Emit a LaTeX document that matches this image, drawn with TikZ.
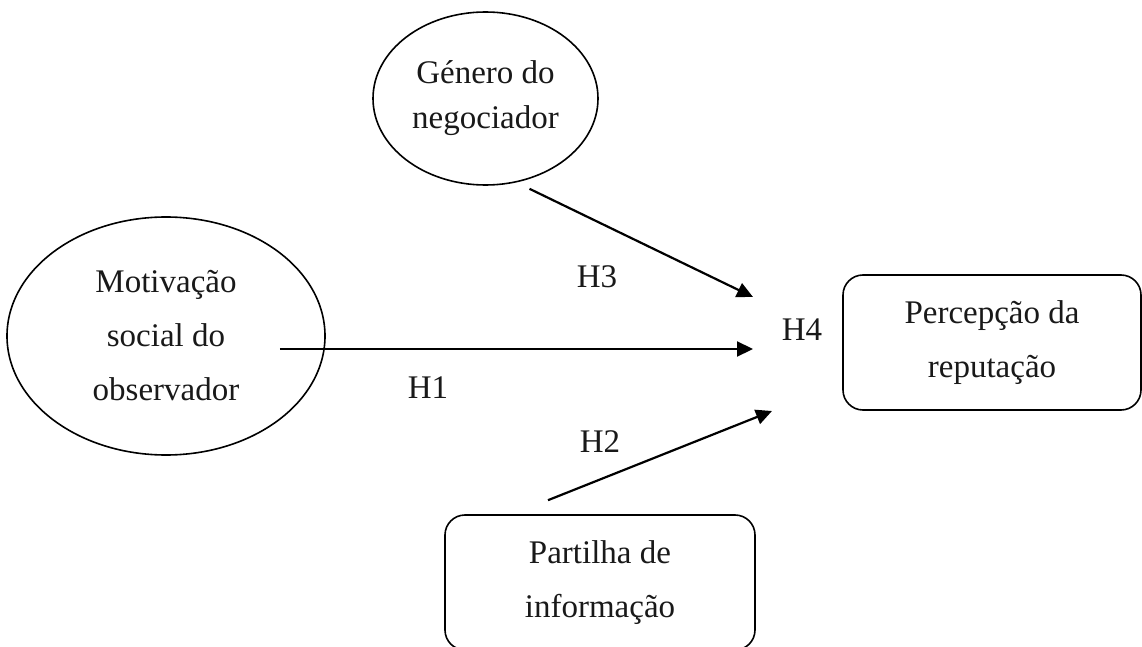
\documentclass[tikz,border=0pt]{standalone}
\usepackage{fontspec}
\setmainfont{Liberation Serif}
\usetikzlibrary{arrows.meta,shapes.geometric}

\begin{document}
\begin{tikzpicture}[x=0.5pt, y=-0.5pt, >={Triangle[length=8pt,width=7.5pt]},
    every node/.style={font=\fontsize{16.5}{27}\selectfont, text=black!90},
    latent/.style={ellipse, draw, line width=0.8pt, align=center, inner sep=2pt},
    block/.style={rectangle, rounded corners=10pt, draw, line width=0.8pt, align=center, minimum height=67.5pt},
    hyp/.style={->, line width=1.1pt}]
    \useasboundingbox (0,0) rectangle (1142,647);

    \node[latent, minimum width=112.5pt, minimum height=86.5pt, font=\fontsize{16.5}{22.5}\selectfont] (gen) at (485.5,98.5) {Género do\\negociador};
    \node[latent, minimum width=159pt, minimum height=119pt] (mot) at (166,336) {Motivação\\social do\\observador};
    \node[block, minimum width=149pt] (per) at (992,342.5) {Percepção da\\reputação};
    \node[block, minimum width=155pt] (par) at (600,582.5) {Partilha de\\informação};

    \coordinate (t3) at (753,297);
    \coordinate (t1) at (753,349);
    \coordinate (t2) at (772,411);

    \node (h3) at (597,277) {H3};
    \node (h1) at (428,388) {H1};
    \node (h2) at (600,442) {H2};
    \node (h4) at (802,330) {H4};

    \draw[hyp] ([xshift=22pt,yshift=-1.5pt]gen.south) -- (t3);
    \draw[hyp] ([xshift=-23pt,yshift=-6.5pt]mot.east) -- (t1);
    \draw[hyp] ([xshift=-26pt,yshift=7pt]par.north) -- (t2);
\end{tikzpicture}
\end{document}
